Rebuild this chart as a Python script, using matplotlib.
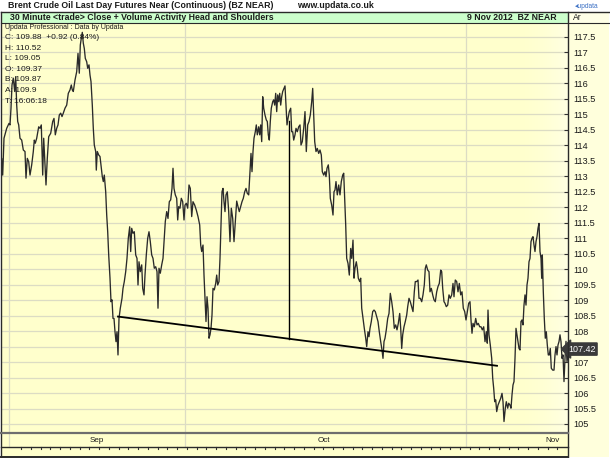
import numpy as np
import matplotlib
matplotlib.use("Agg")
import matplotlib.pyplot as plt
from matplotlib.patches import Rectangle
from matplotlib.lines import Line2D

plt.rcParams['font.family'] = ['Liberation Sans', 'DejaVu Sans']

W, H = 610, 458

# 30 minute closes, (bar, price), one bar ~ one screen column
late_aug = [(0.0,112.50),(1.7,113.58),(2.7,113.04),(4.0,114.23),(6.7,114.55),(9.0,114.71),(10.0,114.66),
    (11.0,115.20),(12.0,115.95),(13.3,116.17),(14.7,115.74),(15.7,116.22),(16.7,115.30),(17.7,114.77),
    (18.7,114.66),(20.0,114.23),(21.7,114.17),(23.3,113.85),(25.0,113.80),(26.0,112.94),(27.3,113.58),
    (28.7,113.47),(30.0,113.04),(31.7,113.37),(33.3,113.80),(34.3,114.17),(35.3,114.07),(36.7,114.23),
    (38.7,114.60),(40.0,114.55),(41.3,114.66),(42.7,113.04),(43.7,114.23),(45.0,113.37),(46.0,112.72),
    (47.3,113.58),(48.7,114.28),(50.7,114.39),(52.7,114.77),(54.0,114.87),(55.3,114.34),(56.7,114.55),
    (58.0,114.66),(59.3,114.98),(60.7,115.04),(62.0,114.93),(63.3,115.04),(65.0,115.20),(66.7,115.30),
    (68.3,115.68),(70.0,115.79),(71.3,115.95),(72.3,115.79),(73.3,115.74),(75.0,116.11),(76.7,116.38),
    (78.0,116.97),(79.3,116.33),(80.3,117.24),(81.3,117.46),(82.3,117.65),(83.3,117.30),(84.3,117.13),
    (85.3,116.81),(86.7,116.70),(87.7,116.49),(89.0,116.60),(90.0,116.27),(91.0,116.06),(92.3,115.30),
    (93.3,114.55),(94.3,114.01),(95.7,113.80),(96.3,113.20),(97.3,113.80),(98.7,113.69),(100.0,113.64),
    (101.0,113.37),(102.3,112.99),(103.3,112.83),(104.3,113.04),(105.7,112.50),(106.7,111.75),
    (107.7,111.21),(108.7,110.46),(110.0,109.71),(111.0,108.95),(112.0,109.01),(113.0,108.41)]

left_shoulder = [(114.0,108.41),(115.0,107.98),(116.0,107.66),(117.0,107.98),(118.0,107.23),(119.0,108.41),
    (120.3,108.74),(122.0,109.06),(123.0,109.38),(124.3,109.60),(125.7,109.92),(127.0,110.35),(128.3,111.00),
    (129.7,111.37),(130.7,110.57),(131.7,111.32),(133.0,111.16),(134.3,111.21),(135.7,110.46),(137.0,110.35),
    (138.0,109.49),(139.0,110.24),(140.3,109.92),(141.7,110.14),(142.7,109.38),(144.0,109.17),(145.0,109.81),
    (146.3,110.46),(147.7,111.00),(149.0,111.21),(150.3,110.89),(151.7,110.46),(153.0,110.35),(154.3,110.03),
    (155.7,110.08),(157.0,109.92),(158.0,108.74),(159.0,110.03),(160.3,109.87),(161.7,110.14),(163.0,110.35),
    (164.3,111.00),(165.3,111.54),(166.7,111.86),(168.0,111.64),(169.3,112.18),(170.7,112.24),(172.0,112.61),
    (173.0,113.26),(174.0,112.61),(175.3,112.40),(176.7,112.29),(177.7,111.59),(178.7,112.02),(180.0,111.97),
    (181.3,112.29),(182.7,112.18),(184.0,111.59),(185.0,112.07),(186.3,112.13),(187.7,111.97),(189.0,112.72),
    (190.3,112.61),(191.7,111.70),(193.0,112.18),(194.7,112.07),(196.3,111.91),(198.0,111.70),(199.7,111.43),
    (200.7,110.78),(201.7,110.57),(203.0,110.78),(204.0,109.81),(205.0,109.06),(206.0,108.31),(207.0,109.11),
    (208.0,108.74),(209.0,107.77),(210.0,107.88),(211.0,108.09),(212.0,108.52),(213.0,109.38),(214.3,109.33),
    (215.7,109.54),(216.7,109.81),(217.7,109.49),(219.0,109.60),(220.0,110.35),(221.0,111.43),(222.0,112.50),
    (223.0,112.61),(224.0,112.18),(225.0,111.86),(226.0,112.40)]

head = [(227.3,112.50),(228.7,111.86),(230.0,110.89),(231.3,111.97),(232.7,111.64),(234.0,110.89),
    (235.3,111.54),(236.7,112.20),(238.0,112.02),(239.3,111.86),(240.7,112.02),(242.0,112.18),(243.3,112.29),
    (244.7,112.50),(246.0,112.61),(247.3,112.45),(248.7,112.40),(250.0,113.15),(251.0,113.74),(252.0,113.15),
    (253.0,113.80),(254.0,114.23),(255.3,114.44),(256.3,114.66),(257.3,114.34),(258.7,114.60),(259.7,114.34),
    (260.7,114.66),(261.7,114.12),(262.7,115.57),(263.7,115.20),(265.0,114.98),(266.3,114.82),(267.3,114.77),
    (268.3,114.34),(269.3,114.17),(270.3,114.77),(271.3,115.20),(272.7,115.41),(273.7,115.47),(274.7,115.30),
    (275.7,115.68),(276.7,115.09),(277.7,115.63),(278.7,115.41),(279.7,115.68),(280.7,115.30),(281.7,115.57),
    (282.7,115.74),(284.0,115.84),(285.0,115.92),(286.0,115.30),(287.0,114.66),(288.0,114.87),(289.3,115.09),
    (290.7,115.20),(291.7,114.44),(292.7,114.44),(293.7,114.17),(295.0,114.34),(296.0,114.55),(297.3,114.44),
    (298.7,114.60),(300.0,114.66),(301.0,114.01),(302.3,114.12),(303.7,114.55),(305.0,115.09),(306.3,113.80),
    (307.7,114.66),(309.0,114.77),(310.3,114.98),(311.7,115.41),(312.7,115.84),(313.7,114.98),(314.7,114.12),
    (316.0,113.80),(317.3,113.90),(318.7,113.74),(320.0,113.85),(321.3,113.69),(322.3,113.15),(323.7,113.04),
    (325.0,113.15),(326.0,112.99),(327.0,113.26),(328.3,113.37),(329.3,113.04),(330.3,112.29),(331.7,112.07),
    (333.0,111.75),(334.0,112.50),(335.0,112.56),(336.0,112.83),(337.3,112.40),(338.7,112.72),(340.0,112.40)]

right_shoulder = [(341.3,112.83),(342.7,113.04),(343.7,113.10),(344.7,112.29),(345.7,111.43),(346.7,110.35),
    (348.0,110.19),(349.3,109.81),(350.7,110.67),(351.7,110.35),(353.0,110.94),(354.0,109.71),(355.0,110.03),
    (356.3,110.24),(357.3,110.03),(358.3,109.71),(359.7,109.60),(360.7,109.71),(361.7,108.74),(363.0,108.41),
    (364.3,108.09),(365.7,107.77),(366.7,107.50),(368.0,107.98),(369.0,107.82),(370.0,108.09),(371.3,108.31),
    (372.7,108.63),(374.0,108.68),(375.3,108.63),(376.7,108.47),(378.0,108.31),(379.3,107.98),(380.7,107.66),
    (382.0,107.39),(383.0,107.12),(384.0,107.66),(385.0,107.77),(386.3,108.04),(387.7,108.41),(389.0,108.57),
    (390.3,109.22),(391.7,108.95),(393.0,108.63),(394.3,108.09),(395.7,108.20),(397.0,108.04),(398.3,108.25),
    (399.7,108.57),(400.7,108.09),(401.7,107.44),(402.7,107.88),(404.0,108.14),(405.3,108.31),(406.7,108.52),
    (407.7,108.79),(409.0,109.06),(410.3,108.95),(411.7,108.79),(413.0,108.63),(414.3,109.27),(415.3,109.60),
    (416.7,109.60),(418.0,109.65),(419.0,109.06),(420.3,109.06),(421.7,108.95),(423.0,109.17),(424.3,109.49),
    (425.3,110.03),(426.3,110.14),(427.7,109.97),(429.0,109.92),(430.0,109.27),(431.3,109.38),(432.7,109.17),
    (434.0,109.01),(435.3,108.95),(436.7,109.27),(438.0,109.44),(439.3,109.54),(440.7,109.97),(441.7,109.92),
    (442.7,109.38),(444.0,108.95),(445.0,108.90),(446.3,108.79),(447.7,108.84),(449.0,109.17),(450.3,109.06),
    (451.7,109.17),(453.0,109.54)]

breakdown = [(454.0,109.11),(455.3,109.65),(456.7,109.60),(458.0,109.27),(459.3,109.54),(460.7,109.17),
    (462.0,109.27),(463.3,108.74),(464.7,108.63),(466.0,108.36),(467.3,108.63),(468.7,108.90),(470.0,108.95),
    (471.0,108.36),(472.0,107.93),(473.0,108.25),(474.3,108.14),(475.7,108.41),(477.0,108.20),(478.3,108.25),
    (479.7,108.14),(481.0,108.14),(482.3,108.04),(483.7,108.14),(485.0,107.66),(486.3,107.98),(487.3,107.61),
    (488.0,108.68),(489.0,107.88),(490.3,107.55),(491.7,107.12),(492.7,106.48),(493.7,106.15),(494.7,105.72),
    (495.7,105.78),(496.7,105.40),(498.0,105.61),(499.3,105.72),(500.7,105.83),(502.0,105.99),(503.0,105.72),
    (504.0,105.08),(505.3,105.51),(506.3,105.72),(507.7,105.51),(508.7,105.67),(510.0,105.61),(511.0,105.51),
    (512.0,105.94),(513.0,106.26),(514.0,106.37),(515.0,107.12),(516.0,108.09),(517.0,107.88),(518.0,107.66),
    (519.0,107.44),(520.0,107.39),(521.0,108.31),(522.0,108.36),(523.0,108.20),(524.0,108.84),(525.0,109.17),
    (526.0,108.84),(527.0,109.49),(528.0,109.71),(529.0,110.24),(530.0,110.35),(531.0,110.89),(532.0,111.00),
    (533.0,111.05),(534.0,110.78),(535.0,110.57),(536.0,110.89),(537.0,111.05),(538.0,111.32),(539.0,111.48),
    (540.0,110.57),(541.0,110.35),(541.7,109.71),(542.3,110.46),(543.3,109.27),(544.3,108.41),(545.3,107.77),
    (546.3,107.98),(547.3,107.55),(548.3,107.23),(549.3,107.23),(550.3,107.44),(551.3,106.80),(552.7,106.74),
    (554.0,106.74),(555.0,107.23),(556.0,107.50),(557.0,107.23),(558.0,107.55),(559.0,107.66),(560.0,107.88),
    (561.0,107.66),(562.0,107.12),(563.0,107.23),(564.0,106.37),(565.0,107.12),(566.0,107.67),(567.0,107.01),
    (568.0,107.23),(568.6,107.42)]

neck_bar = [118, 497]
neck_price = [108.47, 106.88]
head_bar = 288.7
head_top = 114.8
last_close = 107.42

price_ticks = np.arange(105, 117.51, 0.5)
month_names = ['Sep', 'Oct', 'Nov']
month_pos = [97, 324, 552]
month_lines = [8.5, 184.5, 465.5]
day_ticks = np.arange(21, 566, 9.75)

info_head = 'Updata Professional : Data by Updata'
info_lines = ['C: 109.88  +0.92 (0.84%)', 'H: 110.52', 'L: 109.05', 'O: 109.37',
              'B: 109.87', 'A: 109.9', 'T: 16:06:18']

title = 'Brent Crude Oil Last Day Futures Near (Continuous) (BZ NEAR)'
site = 'www.updata.co.uk'
study = '30 Minute <trade> Close + Volume Activity Head and Shoulders'
stamp = '9 Nov 2012  BZ NEAR'

bg = '#ffffcc'
grid_c = '#dcdcc4'
ink = '#1a1a1a'
narrow = ['Liberation Sans Narrow', 'Liberation Sans', 'DejaVu Sans']

series = late_aug + left_shoulder + head + right_shoulder + breakdown
bars = [p[0] for p in series]
closes = [p[1] for p in series]


def fx(px):
    return px / W


def fy(py):
    return 1 - py / H


def box(x0, y0, x1, y1, fc, z=-5):
    fig.patches.append(Rectangle((fx(x0), fy(y1)), fx(x1) - fx(x0), fy(y0) - fy(y1),
                                 transform=fig.transFigure, fc=fc, ec='none', zorder=z))


def rule(x0, y0, x1, y1, c='#2a2a2a', lw=1.0):
    fig.lines.append(Line2D([fx(x0), fx(x1)], [fy(y0), fy(y1)], transform=fig.transFigure,
                            color=c, lw=lw, zorder=10))


def label(x, y, s, **kw):
    kw.setdefault('va', 'center')
    kw.setdefault('color', ink)
    fig.text(fx(x), fy(y), s, **kw)


fig = plt.figure(figsize=(W / 100, H / 100), dpi=100, facecolor='white')

# panels behind everything
box(1, 12, 568, 23, '#ccffcc')
box(568, 12, 609, 23, '#ffffe6')
box(568, 23, 609, 457, '#ffffdc')
box(1, 433, 568, 457, bg)

# main price pane
ax = fig.add_axes([fx(2), fy(433), fx(568) - fx(2), fy(23) - fy(433)])
ax.set_facecolor(bg)
ax.set_xlim(2, 568)
ax.set_ylim(104.709, 117.952)
# faint whitening towards the right edge, as in the terminal screenshot
fade = np.ones((1, 64, 4))
fade[..., 3] = np.linspace(0, 1, 64) ** 2 * 0.45
ax.imshow(fade, extent=(505, 568, 104.709, 117.952), aspect='auto', zorder=0)
for p in price_ticks:
    ax.axhline(p, color=grid_c, lw=0.9, zorder=1)
for m in month_lines:
    ax.axvline(m, color=grid_c, lw=0.9, zorder=1)
ax.plot(bars, closes, color='#2a2a2a', lw=0.95, zorder=3)
ax.plot(neck_bar, neck_price, color='black', lw=1.3, zorder=4)
ax.plot([head_bar, head_bar], [head_top, np.interp(head_bar, neck_bar, neck_price)],
        color='black', lw=1.0, zorder=4)
for s in ax.spines.values():
    s.set_visible(False)
ax.set_xticks([])
ax.yaxis.tick_right()
ax.set_yticks(price_ticks)
# the tick under the last-price tag is hidden by it
ax.set_yticklabels(['' if abs(p - last_close) < 0.25 else f'{p:g}' for p in price_ticks])
ax.tick_params(axis='y', direction='in', length=3, width=0.8, color='#333333',
               pad=4, labelsize=6.6, labelcolor=ink)
ax.text(1.0, last_close, f'{last_close:.2f}', transform=ax.get_yaxis_transform(),
        ha='left', va='center', fontsize=6.4, color='white', zorder=20, clip_on=False,
        bbox=dict(boxstyle='larrow,pad=0.18', fc='#3a3a3a', ec='#3a3a3a'))

# month strip and day ticks
axm = fig.add_axes([fx(2), fy(457), fx(568) - fx(2), fy(433) - fy(457)])
axm.set_facecolor(bg)
axm.set_xlim(2, 568)
axm.set_ylim(0, 24)
axm.axis('off')
for m in month_lines:
    axm.plot([m, m], [10, 24], color=grid_c, lw=0.9)
for name, pos in zip(month_names, month_pos):
    axm.text(pos, 17, name, ha='center', va='center', fontsize=5.8, color=ink)
for t in day_ticks:
    axm.plot([t, t], [10, 8], color='#333333', lw=0.8)

# frame
rule(1, 12, 1, 457)
rule(1, 12, 609, 12)
rule(1, 23, 609, 23, lw=0.8)
rule(568, 12, 568, 457)
rule(1, 433, 568, 433, c='#6e6e6e', lw=1.6)
rule(1, 447, 568, 447)
rule(1, 457, 568, 457, lw=1.4)

# texts
label(8, 6, title, fontsize=6.3, weight='bold', family=narrow)
label(297, 6, site, fontsize=6.3, weight='bold', family=narrow)
label(575, 6, '\u25c2updata', fontsize=4.8, color='#3a6fc4')
label(10, 17.5, study, fontsize=6.3, weight='bold', family=narrow)
label(557, 17.5, stamp, fontsize=6.3, weight='bold', family=narrow, ha='right')
label(573, 17.5, 'Ar', fontsize=6.2)
label(5, 27.5, info_head, fontsize=5.0)
for i, s in enumerate(info_lines):
    label(5, 37.5 + i * 10.6, s, fontsize=6.0)

fig.savefig('out.png', dpi=100, facecolor='white')
